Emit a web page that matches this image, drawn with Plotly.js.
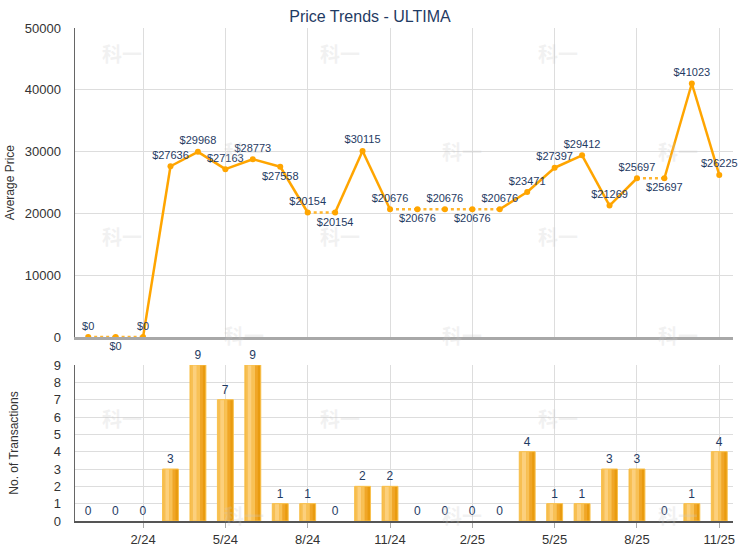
<!DOCTYPE html>
<html>
<head>
<meta charset="utf-8">
<script src="https://cdn.plot.ly/plotly-3.0.1.min.js"></script>
<style>html,body{margin:0;padding:0;background:#fff;}#chart{width:740px;height:550px;}</style>
</head>
<body>
<div id="chart"></div>
<script>
// ---- data ----
var months = ["12/23","1/24","2/24","3/24","4/24","5/24","6/24","7/24","8/24","9/24","10/24","11/24",
              "12/24","1/25","2/25","3/25","4/25","5/25","6/25","7/25","8/25","9/25","10/25","11/25"];
var avgPrice = [0,0,0,27636,29968,27163,28773,27558,20154,20154,30115,20676,
                20676,20676,20676,20676,23471,27397,29412,21269,25697,25697,41023,26225];
var transactions = [0,0,0,3,9,7,9,1,1,0,2,2,0,0,0,0,4,1,1,3,3,0,1,4];
var tickLabels = ["2/24","5/24","8/24","11/24","2/25","5/25","8/25","11/25"];
var labelBelow = [1,7,9,12,14,21];

// ---- derived ----
var xs = months.map(function(m,i){return i;});
var tickVals = tickLabels.map(function(m){return months.indexOf(m);});
var solidX=[], solidY=[], dotX=[], dotY=[];
for (var i=0;i<xs.length-1;i++){
  if (transactions[i+1]===0){ dotX.push(xs[i],xs[i+1],null); dotY.push(avgPrice[i],avgPrice[i+1],null); }
  else { solidX.push(xs[i],xs[i+1],null); solidY.push(avgPrice[i],avgPrice[i+1],null); }
}
var priceText = avgPrice.map(function(v){return "$"+v;});
var textPos = xs.map(function(i){return labelBelow.indexOf(i)>=0 ? "bottom center" : "top center";});

var ORANGE = "#FFA500";
var NAVY = "#1F3B63";
var FONT = "Liberation Sans, Arial, sans-serif";

var traces = [
  {x:solidX, y:solidY, mode:"lines", line:{color:ORANGE, width:2.5}, xaxis:"x", yaxis:"y", hoverinfo:"skip", connectgaps:false},
  {x:dotX, y:dotY, mode:"lines", line:{color:"#FFB52E", width:2.5, dash:"dot"}, xaxis:"x", yaxis:"y", hoverinfo:"skip", connectgaps:false},
  {x:xs, y:avgPrice, mode:"markers+text", marker:{color:ORANGE, size:6},
   text:priceText, textposition:textPos, textfont:{color:NAVY, size:11, family:FONT},
   cliponaxis:false, xaxis:"x", yaxis:"y"}
];

// bars: gradient approximated with overlaid strips (zero-height bars get no outline)
var BW = 0.58;
var strips = [
  {o:-0.29, w:0.58, c:"#F3AE30"},
  {o:-0.27, w:0.08, c:"#F7BF52"},
  {o:-0.19, w:0.15, c:"#FCD07D"},
  {o:-0.04, w:0.12, c:"#F8C156"},
  {o:0.08, w:0.10, c:"#F0A628"},
  {o:0.18, w:0.10, c:"#E99B10"}
];
strips.forEach(function(s){
  traces.push({type:"bar", x:xs, y:transactions, width:s.w, offset:s.o,
    marker:{color:s.c, line:{width:0}}, xaxis:"x2", yaxis:"y2", hoverinfo:"skip"});
});
traces.push({type:"bar", x:xs, y:transactions, width:BW, offset:-BW/2,
  marker:{color:"rgba(0,0,0,0)", line:{color:"#F9C24F", width:transactions.map(function(v){return v>0?1:0;})}},
  text:transactions.map(String), textposition:"outside", cliponaxis:false,
  textfont:{color:NAVY, size:12, family:FONT}, xaxis:"x2", yaxis:"y2"});

// watermarks
var L=75, R=733, T=28, B=521;
var wmCols=[100,222,340,462,580,700], wmRows=[37,135,237,335,435,532];
var annotations=[];
wmRows.forEach(function(py,r){
  wmCols.forEach(function(px,c){
    if ((r+c)%2===0){
      annotations.push({text:"<b>科一</b>", x:(px-L)/(R-L), y:(B-py)/(B-T), xref:"paper", yref:"paper",
        showarrow:false, font:{size:20, color:"rgba(200,200,200,0.25)", family:"Noto Sans CJK SC"}});
    }
  });
});

var layout = {
  width:740, height:550,
  margin:{l:L, r:740-R, t:T, b:550-B},
  paper_bgcolor:"#fff", plot_bgcolor:"#fff",
  showlegend:false,
  barmode:"overlay",
  font:{family:FONT, color:"#333", size:13},
  title:{text:"Price Trends - ULTIMA", x:0.5, xref:"container", xanchor:"center", y:1-16/550, yref:"container", yanchor:"middle",
         font:{size:16, color:NAVY, family:FONT}},
  xaxis:{domain:[0,1], anchor:"y", range:[-0.48,23.5], tickvals:tickVals, ticktext:tickLabels, showticklabels:false,
         showgrid:true, gridcolor:"#DDDDDD", gridwidth:1, showline:true, linecolor:"#A8A8A8", linewidth:3, zeroline:false},
  yaxis:{domain:[0.373,1], anchor:"x", range:[0,50000], dtick:10000, tickformat:"d", showgrid:true, gridcolor:"#DDDDDD",
         showline:true, linecolor:"#666", linewidth:1.5, zeroline:false, ticks:"", ticklabelstandoff:10,
         tickfont:{size:13, color:"#333"},
         title:{text:"Average Price", font:{size:12, color:"#333"}, standoff:7}},
  xaxis2:{domain:[0,1], anchor:"y2", range:[-0.48,23.5], tickvals:tickVals, ticktext:tickLabels,
          showgrid:true, gridcolor:"#DDDDDD", showline:true, linecolor:"#555", linewidth:2, zeroline:false,
          ticks:"outside", ticklen:5, tickcolor:"#AAA", tickfont:{size:13, color:"#333"}},
  yaxis2:{domain:[0,0.3164], anchor:"x2", range:[0,9], dtick:1, showgrid:true, gridcolor:"#DDDDDD", gridwidth:1,
          showline:true, linecolor:"#666", linewidth:1.5, zeroline:false, ticks:"", ticklabelstandoff:10,
          tickfont:{size:13, color:"#333"},
          title:{text:"No. of Transactions", font:{size:12, color:"#333"}, standoff:32}},
  annotations:annotations
};

Plotly.newPlot("chart", traces, layout, {displayModeBar:false, staticPlot:true});
</script>
</body>
</html>
